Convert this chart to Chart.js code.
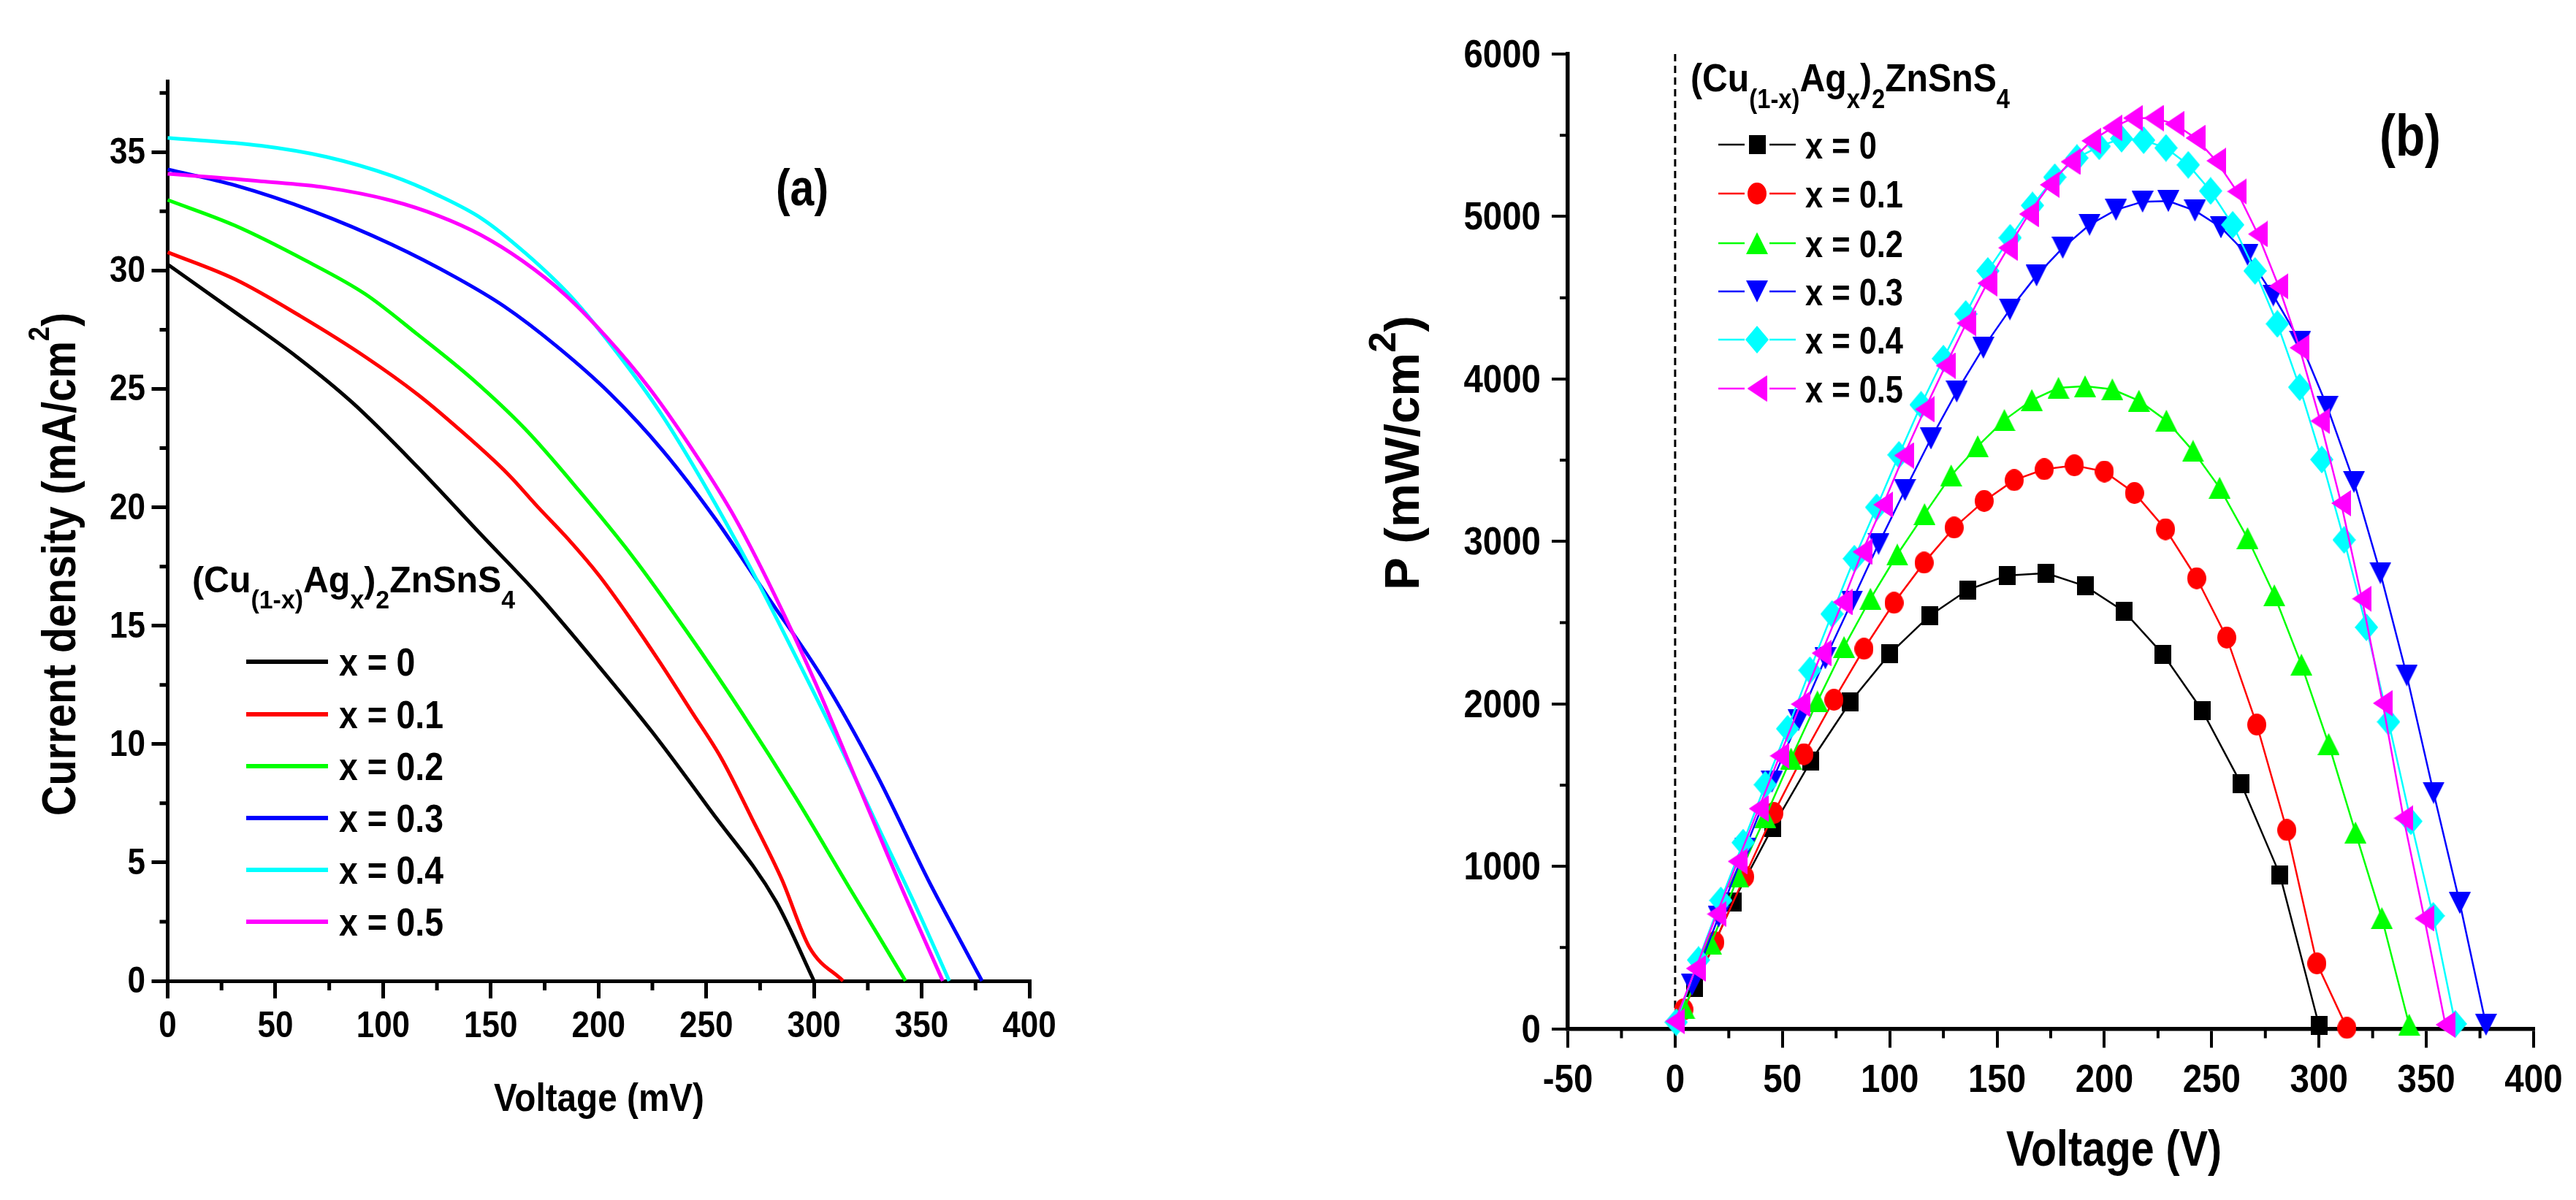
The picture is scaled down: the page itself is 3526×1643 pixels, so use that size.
<!DOCTYPE html>
<html><head><meta charset="utf-8">
<script src="https://cdn.jsdelivr.net/npm/chart.js@4.4.0/dist/chart.umd.min.js"></script>
<style>
html,body{margin:0;padding:0;background:#fff;}
#wrap{position:relative;width:3526px;height:1643px;background:#fff;}
canvas{position:absolute;left:0;top:0;}
</style></head><body>
<div id="wrap"><canvas id="ca" width="3526" height="1643"></canvas><canvas id="cb" width="3526" height="1643"></canvas></div>
<script>
// ================= DATA =================
const seriesLabels = ['x = 0', 'x = 0.1', 'x = 0.2', 'x = 0.3', 'x = 0.4', 'x = 0.5'];
const seriesColors = ['#000000', '#FF0000', '#00FF00', '#0000FF', '#00FFFF', '#FF00FF'];
const seriesMarkers = ['square', 'circle', 'up', 'down', 'diamond', 'left'];

// Panel (a): current density (mA/cm2) vs voltage (mV)
const vA0 = [0, 28, 60, 86, 116, 146, 172, 200, 225, 252, 282.5, 300];
const jA0 = [30.26, 28.45, 26.35, 24.4, 21.7, 18.8, 16.3, 13.3, 10.5, 7.2, 3.34, 0];
const vA1 = [0, 31.2, 61.5, 91.8, 116, 134, 158, 172, 186, 200, 214, 228.5, 243, 257, 271, 285, 298, 313.5];
const jA1 = [30.77, 29.63, 28.08, 26.35, 24.77, 23.4, 21.4, 20.0, 18.65, 17.15, 15.4, 13.45, 11.4, 9.4, 6.9, 4.3, 1.4, 0];
const vA2 = [0, 31.2, 64.5, 91.8, 116, 141, 166, 191, 216, 241, 266.7, 291.8, 317, 329.3, 342.5];
const jA2 = [32.98, 31.9, 30.4, 29.0, 27.3, 25.45, 23.3, 20.7, 17.9, 14.75, 11.3, 7.7, 3.85, 2.0, 0];
const vA3 = [0, 31.2, 67.6, 104, 134, 156, 180.6, 205.4, 229.8, 254.3, 278.7, 303.9, 328.6, 353.4, 365.6, 378];
const jA3 = [34.27, 33.6, 32.5, 31.1, 29.7, 28.5, 26.8, 24.8, 22.4, 19.5, 16.2, 12.8, 8.8, 4.2, 2.1, 0];
const vA4 = [0, 43.3, 73.6, 104, 125, 145.7, 166.5, 187.2, 208, 228.7, 249.5, 270.2, 291, 311.7, 332.4, 346, 362.8];
const jA4 = [35.6, 35.27, 34.8, 34.0, 33.2, 32.2, 30.7, 28.9, 26.6, 24.0, 20.9, 17.5, 13.8, 10.0, 6.0, 3.4, 0];
const vA5 = [0, 43.3, 73.6, 104, 126, 145.4, 164.8, 184.2, 203.6, 223, 242.4, 261.8, 281.2, 300.6, 320, 339.4, 359.8];
const jA5 = [34.08, 33.77, 33.5, 32.95, 32.3, 31.5, 30.4, 29.0, 27.2, 25.1, 22.6, 19.8, 16.4, 12.6, 8.4, 4.2, 0];

// Panel (b): power (mW/cm2) vs voltage
const vB0 = [9, 27, 45.4, 63.3, 81.5, 100, 118.5, 136.4, 154.6, 172.9, 191, 209.1, 227.4, 245.6, 263.7, 281.8, 300];
const pB0 = [255, 779, 1240, 1648, 2010, 2308, 2542, 2702, 2790, 2804, 2725, 2570, 2304, 1958, 1508, 947, 20];
const vB1 = [4, 18.5, 32.4, 46, 60, 74, 88, 102, 116, 130, 144, 158, 172, 186, 200, 214, 228.5, 243, 257, 271, 285, 299, 313];
const pB1 = [119, 532, 936, 1328, 1690, 2025, 2339, 2622, 2869, 3085, 3249, 3377, 3444, 3468, 3430, 3298, 3075, 2773, 2408, 1872, 1223, 402, 5];
const vB2 = [4.3, 16.7, 29.4, 42, 54, 66.3, 78.7, 91, 103.5, 116.2, 128.6, 141, 153.4, 166.2, 178.6, 191, 203.7, 216.1, 228.9, 241.3, 253.7, 266.7, 279.2, 291.8, 304.5, 317, 329.3, 342];
const pB2 = [126, 524, 936, 1303, 1663, 2015, 2350, 2647, 2919, 3168, 3406, 3586, 3747, 3870, 3945, 3955, 3936, 3866, 3743, 3557, 3330, 3020, 2668, 2241, 1753, 1208, 681, 25];
const vB3 = [7.9, 20.3, 32.7, 45.1, 57.5, 70, 82.4, 94.8, 107.1, 119.2, 131.2, 143.6, 156, 168.4, 180.6, 193.1, 205.4, 217.8, 229.8, 242.2, 254.3, 266.7, 278.7, 291.2, 303.9, 316.3, 328.6, 340.9, 353.4, 365.6, 377.8];
const pB3 = [270, 690, 1110, 1520, 1900, 2280, 2630, 2985, 3316, 3633, 3922, 4192, 4428, 4637, 4807, 4949, 5041, 5091, 5095, 5036, 4933, 4764, 4514, 4229, 3827, 3366, 2805, 2175, 1452, 774, 25];
const vB4 = [0.5, 10.9, 21.3, 31.7, 42, 52.4, 62.8, 73.1, 83.5, 93.9, 104.3, 114.6, 125, 135.4, 145.7, 156.1, 166.5, 176.9, 187.2, 197.6, 208, 218.3, 228.7, 239.1, 249.5, 259.8, 270.2, 280.6, 291, 301.3, 311.7, 322.1, 332.4, 342.8, 353.2, 363.5];
const pB4 = [40, 423, 790, 1146, 1502, 1847, 2207, 2553, 2894, 3210, 3533, 3841, 4125, 4400, 4665, 4869, 5068, 5242, 5360, 5432, 5479, 5470, 5422, 5318, 5157, 4949, 4665, 4339, 3949, 3504, 3009, 2471, 1889, 1277, 695, 30];
const vB5 = [0, 9.6, 19.4, 29.1, 38.9, 48.7, 58.5, 68.2, 78, 87.2, 96.9, 106.6, 116.3, 126, 135.7, 145.4, 155.1, 164.8, 174.5, 184.2, 193.9, 203.6, 213.3, 223, 232.7, 242.4, 252.1, 261.8, 271.5, 281.2, 290.9, 300.6, 310.3, 320, 329.7, 339.4, 349.1, 358.9];
const pB5 = [46, 371, 706, 1030, 1355, 1680, 1998, 2312, 2626, 2936, 3226, 3529, 3813, 4082, 4343, 4589, 4807, 5015, 5195, 5337, 5466, 5545, 5606, 5606, 5570, 5483, 5343, 5154, 4892, 4570, 4192, 3741, 3235, 2647, 2004, 1296, 679, 25];

// Tick values
const xMajorA = [0, 50, 100, 150, 200, 250, 300, 350, 400];
const xMinorA = [25, 75, 125, 175, 225, 275, 325, 375];
const yMajorA = [0, 5, 10, 15, 20, 25, 30, 35];
const yMinorA = [2.5, 7.5, 12.5, 17.5, 22.5, 27.5, 32.5, 37.5];
const xMajorB = [-50, 0, 50, 100, 150, 200, 250, 300, 350, 400];
const xMinorB = [-25, 25, 75, 125, 175, 225, 275, 325, 375];
const yMajorB = [0, 1000, 2000, 3000, 4000, 5000, 6000];
const yMinorB = [500, 1500, 2500, 3500, 4500, 5500];

const seriesA = [[vA0, jA0], [vA1, jA1], [vA2, jA2], [vA3, jA3], [vA4, jA4], [vA5, jA5]];
const seriesB = [[vB0, pB0], [vB1, pB1], [vB2, pB2], [vB3, pB3], [vB4, pB4], [vB5, pB5]];

// ================= FONTS =================
const FAM = '"Liberation Sans", Arial, "DejaVu Sans", sans-serif';

// ================= MARKERS =================
function mk(shape, color, w, h) {
  const c = document.createElement('canvas'); c.width = w; c.height = h;
  const g = c.getContext('2d'); g.fillStyle = color; g.beginPath();
  if (shape === 'square') g.rect(0, 0, w, h);
  else if (shape === 'circle') g.ellipse(w / 2, h / 2, w / 2, h / 2, 0, 0, Math.PI * 2);
  else if (shape === 'up') { g.moveTo(w / 2, 0); g.lineTo(w, h); g.lineTo(0, h); }
  else if (shape === 'down') { g.moveTo(0, 0); g.lineTo(w, 0); g.lineTo(w / 2, h); }
  else if (shape === 'diamond') { g.moveTo(w / 2, 0); g.lineTo(w, h / 2); g.lineTo(w / 2, h); g.lineTo(0, h / 2); }
  else if (shape === 'left') { g.moveTo(0, h / 2); g.lineTo(w, 0); g.lineTo(w, h); }
  g.closePath(); g.fill();
  return c;
}
const markerSize = { square: [23, 26], circle: [26, 30], up: [30, 30], down: [30, 30], diamond: [32, 38], left: [27, 36] };
const markerImgs = seriesMarkers.map((m, i) => mk(m, seriesColors[i], markerSize[m][0], markerSize[m][1]));

// ================= TEXT HELPERS =================
function fitText(ctx, txt, x, base, w, size) {
  ctx.save();
  ctx.font = 'bold ' + size + 'px ' + FAM;
  ctx.textAlign = 'left'; ctx.textBaseline = 'alphabetic';
  const nat = ctx.measureText(txt).width;
  ctx.translate(x, base); ctx.scale(w / nat, 1);
  ctx.fillText(txt, 0, 0);
  ctx.restore();
}
function sqText(ctx, txt, x, base, size, sx, align) {
  ctx.save();
  ctx.font = 'bold ' + size + 'px ' + FAM;
  ctx.textAlign = align; ctx.textBaseline = 'alphabetic';
  ctx.translate(x, base); ctx.scale(sx, 1);
  ctx.fillText(txt, 0, 0);
  ctx.restore();
}
function richParts(ctx, parts, main, small, off) {
  let cx = 0;
  parts.forEach(([t, k]) => {
    ctx.font = 'bold ' + (k ? small : main) + 'px ' + FAM;
    ctx.fillText(t, cx, k === 1 ? off : (k === 2 ? -off : 0));
    cx += ctx.measureText(t).width;
  });
}
function richWidth(ctx, parts, main, small) {
  let n = 0;
  parts.forEach(([t, k]) => { ctx.font = 'bold ' + (k ? small : main) + 'px ' + FAM; n += ctx.measureText(t).width; });
  return n;
}
function rich(ctx, parts, x, base, w, main, small, off) {
  ctx.save(); ctx.textAlign = 'left'; ctx.textBaseline = 'alphabetic';
  const nat = richWidth(ctx, parts, main, small);
  ctx.translate(x, base); ctx.scale(w / nat, 1);
  richParts(ctx, parts, main, small, off);
  ctx.restore();
}
function vRich(ctx, parts, xBase, yBottom, yTop, main, small, off) {
  ctx.save(); ctx.textAlign = 'left'; ctx.textBaseline = 'alphabetic';
  const nat = richWidth(ctx, parts, main, small);
  ctx.translate(xBase, yBottom); ctx.rotate(-Math.PI / 2);
  ctx.scale((yBottom - yTop) / nat, 1);
  richParts(ctx, parts, main, small, off);
  ctx.restore();
}
const formulaParts = [['(Cu', 0], ['(1-x)', 1], ['Ag', 0], ['x', 1], [')', 0], ['2', 1], ['ZnSnS', 0], ['4', 1]];

function minorTicks(chart, xs, ys, xLen, yLen, width) {
  const ctx = chart.ctx, ca = chart.chartArea;
  ctx.save(); ctx.strokeStyle = '#000'; ctx.lineWidth = width; ctx.beginPath();
  xs.forEach(v => { const p = chart.scales.x.getPixelForValue(v); ctx.moveTo(p, ca.bottom); ctx.lineTo(p, ca.bottom + xLen); });
  ys.forEach(v => { const p = chart.scales.y.getPixelForValue(v); ctx.moveTo(ca.left, p); ctx.lineTo(ca.left - yLen, p); });
  ctx.stroke(); ctx.restore();
}
// tick labels placed at the scale's own tick pixels
function tickLabels(chart, xv, yv, o) {
  const ctx = chart.ctx;
  ctx.save(); ctx.fillStyle = '#000';
  xv.forEach(v => sqText(ctx, String(v), chart.scales.x.getPixelForValue(v), o.xBase, o.xSize, o.xSx, 'center'));
  yv.forEach(v => sqText(ctx, String(v), o.yRight, chart.scales.y.getPixelForValue(v) + o.yOff, o.ySize, o.ySx, 'right'));
  ctx.restore();
}

// ================= CHART (a) =================
const decoA = {
  id: 'decoA',
  afterDraw(chart) {
    const ctx = chart.ctx;
    minorTicks(chart, xMinorA, yMinorA, 13, 11, 5);
    tickLabels(chart, xMajorA, yMajorA, { xBase: 1420, xSize: 50, xSx: 0.88, yRight: 199, yOff: 16, ySize: 50, ySx: 0.88 });
    ctx.save(); ctx.fillStyle = '#000';
    vRich(ctx, [['Current density (mA/cm', 0], ['2', 2], [')', 0]], 103, 1117, 428, 64, 40, 36);
    fitText(ctx, 'Voltage (mV)', 676, 1521, 288, 54);
    fitText(ctx, '(a)', 1062, 281, 72, 70);
    rich(ctx, formulaParts, 263, 811, 442, 50, 35, 22);
    const rows = [906, 978, 1049, 1120, 1191, 1262];
    ctx.font = 'bold 54px ' + FAM;
    const s = 143 / ctx.measureText('x = 0.1').width;
    chart.data.datasets.forEach((d, i) => {
      ctx.strokeStyle = d.borderColor; ctx.lineWidth = 6; ctx.lineCap = 'butt';
      ctx.beginPath(); ctx.moveTo(337, rows[i]); ctx.lineTo(449, rows[i]); ctx.stroke();
      sqText(ctx, d.label, 464, rows[i] + 19, 54, s, 'left');
    });
    ctx.restore();
  }
};

new Chart(document.getElementById('ca'), {
  type: 'line',
  data: {
    datasets: seriesA.map((s, i) => ({
      label: seriesLabels[i],
      data: s[0].map((v, k) => ({ x: v, y: s[1][k] })),
      borderColor: seriesColors[i], backgroundColor: seriesColors[i],
      borderWidth: 5, pointRadius: 0, fill: false,
      cubicInterpolationMode: 'monotone', clip: false, order: 5 - i
    }))
  },
  options: {
    responsive: false, animation: false, devicePixelRatio: 1,
    layout: { padding: { left: 60, top: 111, right: 3526 - 1409, bottom: 0 } },
    plugins: { legend: { display: false }, tooltip: { enabled: false }, title: { display: false } },
    scales: {
      x: {
        type: 'linear', min: 0, max: 400,
        afterBuildTicks: sc => { sc.ticks = xMajorA.map(v => ({ value: v })); },
        afterFit: sc => { sc.height = 300; },
        grid: { drawOnChartArea: false, drawTicks: true, tickLength: 24, tickWidth: 5, tickColor: '#000', color: '#000', lineWidth: 5 },
        border: { display: true, color: '#000', width: 5 },
        ticks: { display: false }
      },
      y: {
        type: 'linear', min: 0, max: 38,
        afterBuildTicks: sc => { sc.ticks = yMajorA.map(v => ({ value: v })); },
        afterFit: sc => { sc.width = 169.5; },
        grid: { drawOnChartArea: false, drawTicks: true, tickLength: 22, tickWidth: 5, tickColor: '#000', color: '#000', lineWidth: 5 },
        border: { display: true, color: '#000', width: 5 },
        ticks: { display: false }
      }
    }
  },
  plugins: [decoA]
});

// ================= CHART (b) =================
const decoB = {
  id: 'decoB',
  beforeDatasetsDraw(chart) {
    const ctx = chart.ctx, xs = chart.scales.x, ys = chart.scales.y;
    const x0 = xs.getPixelForValue(0);
    ctx.save(); ctx.strokeStyle = '#000'; ctx.lineWidth = 3; ctx.setLineDash([10, 6]);
    ctx.beginPath(); ctx.moveTo(x0, ys.getPixelForValue(6000)); ctx.lineTo(x0, ys.getPixelForValue(0)); ctx.stroke();
    ctx.restore();
  },
  afterDraw(chart) {
    const ctx = chart.ctx;
    minorTicks(chart, xMinorB, yMinorB, 13, 11, 4);
    tickLabels(chart, xMajorB, yMajorB, { xBase: 1495, xSize: 54, xSx: 0.88, yRight: 2109, yOff: 18, ySize: 53, ySx: 0.895 });
    ctx.save(); ctx.fillStyle = '#000';
    vRich(ctx, [['P (mW/cm', 0], ['2', 2], [')', 0]], 1942, 808, 432, 67, 51, 32);
    fitText(ctx, 'Voltage (V)', 2746, 1596, 295, 68);
    fitText(ctx, '(b)', 3257, 213, 84, 80);
    rich(ctx, formulaParts, 2314, 125, 437, 53, 36, 23);
    const rows = [198, 265, 333, 399, 465, 532];
    ctx.font = 'bold 52px ' + FAM;
    const s = 134 / ctx.measureText('x = 0.1').width;
    chart.data.datasets.forEach((d, i) => {
      ctx.strokeStyle = d.borderColor; ctx.lineWidth = 2.5; ctx.lineCap = 'butt';
      ctx.beginPath(); ctx.moveTo(2352, rows[i]); ctx.lineTo(2388, rows[i]);
      ctx.moveTo(2422, rows[i]); ctx.lineTo(2458, rows[i]); ctx.stroke();
      const img = d.pointStyle;
      ctx.drawImage(img, 2405 - img.width / 2, rows[i] - img.height / 2);
      sqText(ctx, d.label, 2471, rows[i] + 18.5, 52, s, 'left');
    });
    ctx.restore();
  }
};

new Chart(document.getElementById('cb'), {
  type: 'line',
  data: {
    datasets: seriesB.map((s, i) => ({
      label: seriesLabels[i],
      data: s[0].map((v, k) => ({ x: v, y: s[1][k] })),
      borderColor: seriesColors[i], backgroundColor: seriesColors[i],
      borderWidth: 2.5, pointStyle: markerImgs[i], pointRadius: 12, pointHoverRadius: 12,
      fill: false, tension: 0, clip: false, order: 5 - i
    }))
  },
  options: {
    responsive: false, animation: false, devicePixelRatio: 1,
    layout: { padding: { left: 1960, top: 74, right: 3526 - 3468, bottom: 0 } },
    plugins: { legend: { display: false }, tooltip: { enabled: false }, title: { display: false } },
    scales: {
      x: {
        type: 'linear', min: -50, max: 400,
        afterBuildTicks: sc => { sc.ticks = xMajorB.map(v => ({ value: v })); },
        afterFit: sc => { sc.height = 1643 - 1408.5; },
        grid: { drawOnChartArea: false, drawTicks: true, tickLength: 26, tickWidth: 4, tickColor: '#000', color: '#000', lineWidth: 4 },
        border: { display: true, color: '#000', width: 5.5 },
        ticks: { display: false }
      },
      y: {
        type: 'linear', min: 0, max: 6000,
        afterBuildTicks: sc => { sc.ticks = yMajorB.map(v => ({ value: v })); },
        afterFit: sc => { sc.width = 186; },
        grid: { drawOnChartArea: false, drawTicks: true, tickLength: 22, tickWidth: 4, tickColor: '#000', color: '#000', lineWidth: 4 },
        border: { display: true, color: '#000', width: 5.5 },
        ticks: { display: false }
      }
    }
  },
  plugins: [decoB]
});
</script>
</body></html>
